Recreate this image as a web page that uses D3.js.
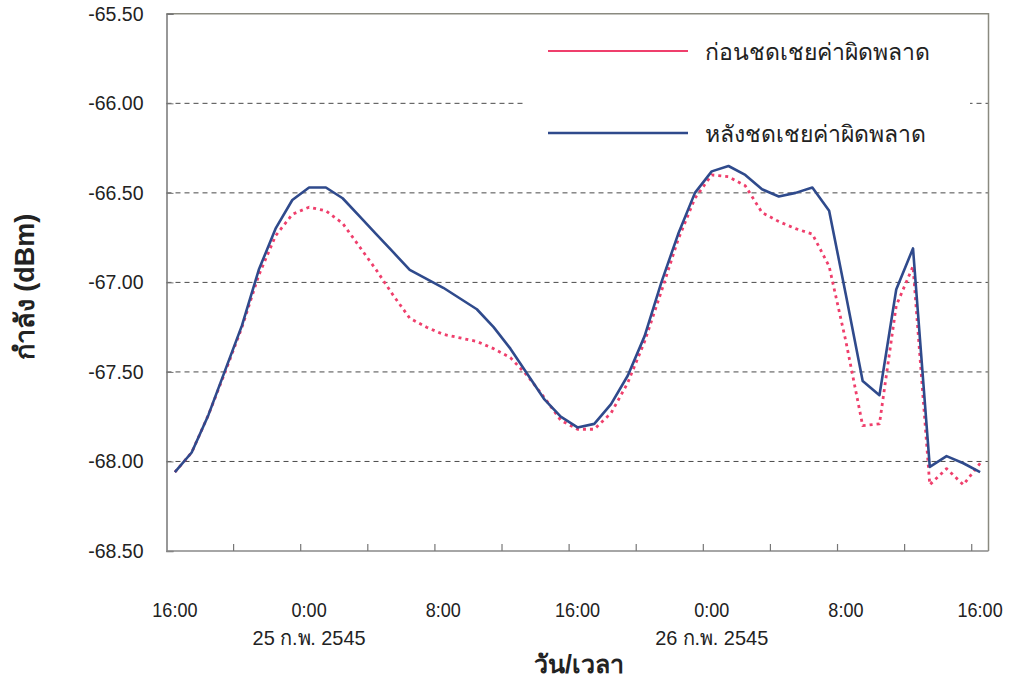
<!DOCTYPE html>
<html>
<head>
<meta charset="utf-8">
<script src="https://cdn.jsdelivr.net/npm/d3@7"></script>
<style>
  html, body { margin: 0; padding: 0; background: #fff; }
  svg { display: block; }
  .tick text { fill: #222; }
</style>
</head>
<body>
<svg id="chart" width="1011" height="678"></svg>
<script>
// Hourly samples, 16:00 on 24 Feb to 16:00 on 26 Feb 2545 (B.E.)
const hours = d3.range(0, 49).map(i => (16 + i) % 24);
const hourLabels = hours.map(h => h + ":00");

// Received power before correction (dBm)
const beforeCorrection = [
  -68.06, -67.95, -67.74, -67.50, -67.25, -66.96, -66.74, -66.62, -66.58, -66.60,
  -66.67, -66.80, -66.93, -67.07, -67.20, -67.25, -67.29, -67.31, -67.33, -67.37,
  -67.42, -67.52, -67.64, -67.77, -67.82, -67.82, -67.73, -67.56, -67.33, -67.05,
  -66.76, -66.53, -66.40, -66.41, -66.46, -66.61, -66.66, -66.70, -66.73, -66.91,
  -67.33, -67.80, -67.79, -67.13, -66.91, -68.13, -68.04, -68.13, -68.01
];

// Received power after correction (dBm)
const afterCorrection = [
  -68.06, -67.95, -67.74, -67.49, -67.24, -66.93, -66.70, -66.54, -66.47, -66.47,
  -66.53, -66.63, -66.73, -66.83, -66.93, -66.98, -67.03, -67.09, -67.15, -67.25,
  -67.37, -67.51, -67.65, -67.75, -67.81, -67.79, -67.68, -67.52, -67.30, -67.00,
  -66.73, -66.50, -66.38, -66.35, -66.40, -66.48, -66.52, -66.50, -66.47, -66.60,
  -67.07, -67.55, -67.63, -67.04, -66.81, -68.03, -67.97, -68.01, -68.06
];

const yTicks = [-68.5, -68.0, -67.5, -67.0, -66.5, -66.0, -65.5];
const dateLabels = [
  { index: 8, text: "25 ก.พ. 2545" },
  { index: 32, text: "26 ก.พ. 2545" }
];
const seriesNames = ["ก่อนชดเชยค่าผิดพลาด", "หลังชดเชยค่าผิดพลาด"];
const yTitle = "กำลัง (dBm)";
const xTitle = "วัน/เวลา";

const svg = d3.select("#chart");
const font = "'Liberation Sans', Arial, sans-serif";

const plotL = 166.5, plotR = 988.5, plotT = 13.8, plotB = 551;
const x = d3.scaleBand().domain(d3.range(hours.length)).range([plotL, plotR]).paddingInner(0).paddingOuter(0);
const cx = i => x(i) + x.bandwidth() / 2;
const y = d3.scaleLinear().domain([-68.5, -65.5]).range([plotB, plotT]);

// horizontal dashed gridlines
svg.append("g").selectAll("line")
  .data(yTicks.filter(v => v > -68.5 && v < -65.5))
  .join("line")
  .attr("x1", plotL).attr("x2", plotR)
  .attr("y1", d => y(d)).attr("y2", d => y(d))
  .attr("stroke", "#4a4a4a").attr("stroke-width", 1)
  .attr("stroke-dasharray", "5,4");

// plot frame (top and right edges)
svg.append("path")
  .attr("d", `M${plotL},${plotT}H${plotR}V${plotB}`)
  .attr("fill", "none").attr("stroke", "#8a8a80").attr("stroke-width", 1.5);

// y axis
const yAxis = d3.axisLeft(y).tickValues(yTicks).tickSize(-7).tickPadding(23)
  .tickFormat(d => d.toFixed(2));
const gy = svg.append("g").attr("transform", `translate(${plotL},0)`).call(yAxis);
gy.select(".domain").attr("stroke", "#777").attr("stroke-width", 1.5);
gy.selectAll(".tick line").attr("stroke", "#777");
gy.selectAll(".tick text").attr("font-family", font).attr("font-size", 19.5);

// x axis: tick marks every 4 hours on category boundaries
const xTickIdx = d3.range(4, hours.length, 4);
const gx = svg.append("g");
gx.append("line").attr("x1", plotL).attr("x2", plotR).attr("y1", plotB).attr("y2", plotB)
  .attr("stroke", "#888").attr("stroke-width", 1.5);
gx.selectAll(".xt").data(xTickIdx).join("line").attr("class", "xt")
  .attr("x1", d => x(d)).attr("x2", d => x(d))
  .attr("y1", plotB).attr("y2", plotB - 7)
  .attr("stroke", "#777").attr("stroke-width", 1.2);

// hour labels every 8 hours (condensed face)
const labelIdx = d3.range(0, hours.length, 8);
gx.selectAll(".xl").data(labelIdx).join("text").attr("class", "xl")
  .attr("transform", d => `translate(${cx(d)},617) scale(0.86,1)`)
  .attr("text-anchor", "middle")
  .attr("font-family", font)
  .attr("font-size", 21).attr("fill", "#222")
  .text(d => hourLabels[d]);

gx.selectAll(".xd").data(dateLabels).join("text").attr("class", "xd")
  .attr("transform", d => `translate(${cx(d.index)},645) scale(0.95,1)`)
  .attr("text-anchor", "middle")
  .attr("font-family", font)
  .attr("font-size", 21).attr("fill", "#222")
  .text(d => d.text);

// axis titles
svg.append("text")
  .attr("x", 579).attr("y", 673)
  .attr("text-anchor", "middle")
  .attr("font-family", font).attr("font-weight", "bold")
  .attr("font-size", 25).attr("fill", "#222")
  .text(xTitle);

svg.append("text")
  .attr("transform", "translate(34,287) rotate(-90)")
  .attr("text-anchor", "middle")
  .attr("font-family", font).attr("font-weight", "bold")
  .attr("font-size", 27).attr("fill", "#222")
  .text(yTitle);

// series lines
const line = d3.line().x((d, i) => cx(i)).y(d => y(d));

svg.append("path").datum(beforeCorrection)
  .attr("d", line)
  .attr("fill", "none").attr("stroke", "#ef3f6c").attr("stroke-width", 2.8)
  .attr("stroke-dasharray", "3,4").attr("stroke-linejoin", "round");

svg.append("path").datum(afterCorrection)
  .attr("d", line)
  .attr("fill", "none").attr("stroke", "#2f4a8c").attr("stroke-width", 2.6)
  .attr("stroke-linejoin", "round");

// legend (white box covers the grid behind it)
const legend = svg.append("g");
legend.append("rect").attr("x", 525).attr("y", 24).attr("width", 445).attr("height", 140)
  .attr("fill", "#fff");
const legendItems = [
  { name: seriesNames[0], color: "#ef3f6c", width: 2, y: 51 },
  { name: seriesNames[1], color: "#2f4a8c", width: 2.6, y: 133 }
];
legendItems.forEach(it => {
  legend.append("line").attr("x1", 548).attr("x2", 688).attr("y1", it.y).attr("y2", it.y)
    .attr("stroke", it.color).attr("stroke-width", it.width);
  legend.append("text").attr("x", 705).attr("y", it.y + 9)
    .attr("font-family", font).attr("font-size", 23).attr("fill", "#222")
    .text(it.name);
});
</script>
</body>
</html>
